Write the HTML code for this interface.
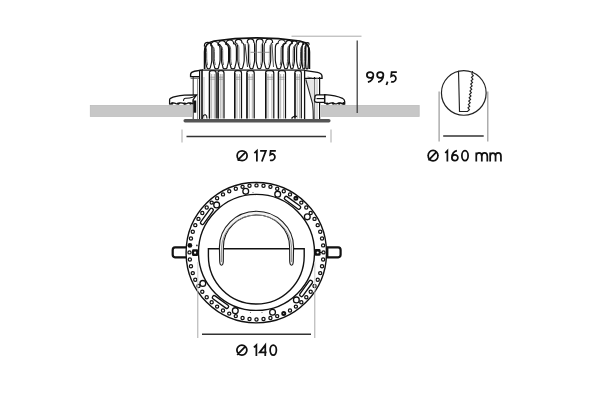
<!DOCTYPE html>
<html><head><meta charset="utf-8"><style>
html,body{margin:0;padding:0;background:#fff;}
body{width:600px;height:400px;overflow:hidden;position:relative;font-family:"Liberation Sans",sans-serif;}
svg{position:absolute;left:0;top:0;}
.t{position:absolute;font-size:16.5px;color:#1a1a1a;white-space:nowrap;line-height:1;}
</style></head><body>
<svg width="600" height="400" viewBox="0 0 600 400">
<path d="M187,247.3 H175 Q172.7,247.3 172.7,250 V254.6 Q172.7,257.3 175,257.3 H187" fill="#fff" stroke="#111" stroke-width="2.2"/>
<path d="M325.5,247.3 H338.2 Q340.6,247.3 340.6,250 V254.6 Q340.6,257.3 338.2,257.3 H325.5" fill="#fff" stroke="#111" stroke-width="2.2"/>
<path d="M327.6,247.3 V257.3" stroke="#111" stroke-width="1.6"/>
<circle cx="256.3" cy="252.70000000000002" r="70.2" fill="#fff" stroke="#111" stroke-width="1.4"/>
<circle cx="323.50" cy="252.40" r="1.6" fill="#fff" stroke="#111" stroke-width="1.25"/>
<circle cx="323.13" cy="259.40" r="1.6" fill="#fff" stroke="#111" stroke-width="1.25"/>
<circle cx="322.04" cy="266.33" r="1.6" fill="#fff" stroke="#111" stroke-width="1.25"/>
<circle cx="320.22" cy="273.10" r="1.6" fill="#fff" stroke="#111" stroke-width="1.25"/>
<circle cx="317.71" cy="279.65" r="1.6" fill="#fff" stroke="#111" stroke-width="1.25"/>
<circle cx="314.52" cy="285.90" r="1.6" fill="#fff" stroke="#111" stroke-width="1.25"/>
<circle cx="310.70" cy="291.78" r="1.6" fill="#fff" stroke="#111" stroke-width="1.25"/>
<circle cx="306.29" cy="297.23" r="1.6" fill="#fff" stroke="#111" stroke-width="1.25"/>
<circle cx="301.33" cy="302.19" r="1.6" fill="#fff" stroke="#111" stroke-width="1.25"/>
<circle cx="295.88" cy="306.60" r="1.6" fill="#fff" stroke="#111" stroke-width="1.25"/>
<circle cx="290.00" cy="310.42" r="1.6" fill="#fff" stroke="#111" stroke-width="1.25"/>
<circle cx="283.75" cy="313.61" r="1.5" fill="#fff" stroke="#111" stroke-width="2.0"/>
<circle cx="277.20" cy="316.12" r="1.6" fill="#fff" stroke="#111" stroke-width="1.25"/>
<circle cx="270.43" cy="317.94" r="1.6" fill="#fff" stroke="#111" stroke-width="1.25"/>
<circle cx="263.50" cy="319.03" r="1.6" fill="#fff" stroke="#111" stroke-width="1.25"/>
<circle cx="256.50" cy="319.40" r="1.6" fill="#fff" stroke="#111" stroke-width="1.25"/>
<circle cx="249.50" cy="319.03" r="1.6" fill="#fff" stroke="#111" stroke-width="1.25"/>
<circle cx="242.57" cy="317.94" r="1.6" fill="#fff" stroke="#111" stroke-width="1.25"/>
<circle cx="235.80" cy="316.12" r="1.6" fill="#fff" stroke="#111" stroke-width="1.25"/>
<circle cx="229.25" cy="313.61" r="1.6" fill="#fff" stroke="#111" stroke-width="1.25"/>
<circle cx="223.00" cy="310.42" r="1.6" fill="#fff" stroke="#111" stroke-width="1.25"/>
<circle cx="217.12" cy="306.60" r="1.6" fill="#fff" stroke="#111" stroke-width="1.25"/>
<circle cx="211.67" cy="302.19" r="1.6" fill="#fff" stroke="#111" stroke-width="1.25"/>
<circle cx="206.71" cy="297.23" r="1.6" fill="#fff" stroke="#111" stroke-width="1.25"/>
<circle cx="202.30" cy="291.78" r="1.6" fill="#fff" stroke="#111" stroke-width="1.25"/>
<circle cx="198.48" cy="285.90" r="1.6" fill="#fff" stroke="#111" stroke-width="1.25"/>
<circle cx="195.29" cy="279.65" r="1.6" fill="#fff" stroke="#111" stroke-width="1.25"/>
<circle cx="192.78" cy="273.10" r="1.6" fill="#fff" stroke="#111" stroke-width="1.25"/>
<circle cx="190.96" cy="266.33" r="1.6" fill="#fff" stroke="#111" stroke-width="1.25"/>
<circle cx="189.87" cy="259.40" r="1.6" fill="#fff" stroke="#111" stroke-width="1.25"/>
<circle cx="189.50" cy="252.40" r="1.6" fill="#fff" stroke="#111" stroke-width="1.25"/>
<circle cx="189.87" cy="245.40" r="2.4" fill="#111"/>
<circle cx="190.96" cy="238.47" r="1.6" fill="#fff" stroke="#111" stroke-width="1.25"/>
<circle cx="192.78" cy="231.70" r="1.6" fill="#fff" stroke="#111" stroke-width="1.25"/>
<circle cx="195.29" cy="225.15" r="1.6" fill="#fff" stroke="#111" stroke-width="1.25"/>
<circle cx="198.48" cy="218.90" r="1.6" fill="#fff" stroke="#111" stroke-width="1.25"/>
<circle cx="202.30" cy="213.02" r="1.6" fill="#fff" stroke="#111" stroke-width="1.25"/>
<circle cx="206.71" cy="207.57" r="1.6" fill="#fff" stroke="#111" stroke-width="1.25"/>
<circle cx="211.67" cy="202.61" r="1.6" fill="#fff" stroke="#111" stroke-width="1.25"/>
<circle cx="217.12" cy="198.20" r="1.6" fill="#fff" stroke="#111" stroke-width="1.25"/>
<circle cx="223.00" cy="194.38" r="1.6" fill="#fff" stroke="#111" stroke-width="1.25"/>
<circle cx="229.25" cy="191.19" r="1.6" fill="#fff" stroke="#111" stroke-width="1.25"/>
<circle cx="235.80" cy="188.68" r="1.6" fill="#fff" stroke="#111" stroke-width="1.25"/>
<circle cx="242.57" cy="186.86" r="1.6" fill="#fff" stroke="#111" stroke-width="1.25"/>
<circle cx="249.50" cy="185.77" r="1.6" fill="#fff" stroke="#111" stroke-width="1.25"/>
<circle cx="256.50" cy="185.40" r="1.6" fill="#fff" stroke="#111" stroke-width="1.25"/>
<circle cx="263.50" cy="185.77" r="1.6" fill="#fff" stroke="#111" stroke-width="1.25"/>
<circle cx="270.43" cy="186.86" r="1.6" fill="#fff" stroke="#111" stroke-width="1.25"/>
<circle cx="277.20" cy="188.68" r="1.6" fill="#fff" stroke="#111" stroke-width="1.25"/>
<circle cx="283.75" cy="191.19" r="1.6" fill="#fff" stroke="#111" stroke-width="1.25"/>
<circle cx="290.00" cy="194.38" r="1.6" fill="#fff" stroke="#111" stroke-width="1.25"/>
<circle cx="295.88" cy="198.20" r="1.5" fill="#fff" stroke="#111" stroke-width="2.0"/>
<circle cx="301.33" cy="202.61" r="1.6" fill="#fff" stroke="#111" stroke-width="1.25"/>
<circle cx="306.29" cy="207.57" r="1.6" fill="#fff" stroke="#111" stroke-width="1.25"/>
<circle cx="310.70" cy="213.02" r="1.6" fill="#fff" stroke="#111" stroke-width="1.25"/>
<circle cx="314.52" cy="218.90" r="1.6" fill="#fff" stroke="#111" stroke-width="1.25"/>
<circle cx="317.71" cy="225.15" r="1.6" fill="#fff" stroke="#111" stroke-width="1.25"/>
<circle cx="320.22" cy="231.70" r="1.6" fill="#fff" stroke="#111" stroke-width="1.25"/>
<circle cx="322.04" cy="238.47" r="1.6" fill="#fff" stroke="#111" stroke-width="1.25"/>
<circle cx="323.13" cy="245.40" r="1.6" fill="#fff" stroke="#111" stroke-width="1.25"/>
<circle cx="216.65" cy="204.91" r="2.9" fill="#fff" stroke="#111" stroke-width="1.3"/>
<circle cx="245.73" cy="191.34" r="2.9" fill="#fff" stroke="#111" stroke-width="1.3"/>
<circle cx="277.71" cy="194.14" r="2.9" fill="#fff" stroke="#111" stroke-width="1.3"/>
<circle cx="307.29" cy="216.84" r="2.9" fill="#fff" stroke="#111" stroke-width="1.3"/>
<circle cx="296.35" cy="299.89" r="2.9" fill="#fff" stroke="#111" stroke-width="1.3"/>
<circle cx="272.55" cy="312.29" r="2.9" fill="#fff" stroke="#111" stroke-width="1.3"/>
<circle cx="235.29" cy="310.66" r="2.9" fill="#fff" stroke="#111" stroke-width="1.3"/>
<circle cx="202.81" cy="283.40" r="2.9" fill="#fff" stroke="#111" stroke-width="1.3"/>
<rect x="197.41" y="214.57" width="19" height="3.6" rx="1.5" transform="rotate(-54 206.91 216.37)" fill="#fff" stroke="#111" stroke-width="1.35"/>
<rect x="283.03" y="201.01" width="19" height="3.6" rx="1.5" transform="rotate(36 292.53 202.81)" fill="#fff" stroke="#111" stroke-width="1.35"/>
<rect x="296.59" y="286.63" width="19" height="3.6" rx="1.5" transform="rotate(126 306.09 288.43)" fill="#fff" stroke="#111" stroke-width="1.35"/>
<rect x="210.97" y="300.19" width="19" height="3.6" rx="1.5" transform="rotate(216 220.47 301.99)" fill="#fff" stroke="#111" stroke-width="1.35"/>
<rect x="192.0" y="249.3" width="6.2" height="6.8" rx="1.4" fill="#111"/><circle cx="195.1" cy="252.7" r="1.1" fill="#fff"/>
<rect x="314.6" y="249.1" width="6.0" height="6.7" rx="1.4" fill="#111"/><circle cx="317.7" cy="252.5" r="1.1" fill="#fff"/>
<path d="M320,252.5 H322" stroke="#111" stroke-width="1"/>
<circle cx="196.9" cy="245.4" r="0.9" fill="#333"/><circle cx="253" cy="192.5" r="0.6" fill="#666"/><circle cx="250.5" cy="312.5" r="0.6" fill="#666"/><circle cx="262" cy="312.5" r="0.6" fill="#666"/>
<circle cx="256.5" cy="252.4" r="58" fill="#fff" stroke="#111" stroke-width="1.4"/>
<path d="M208.4,248.8 H304.2 V256 A47.9,48 0 0 1 208.4,256 Z" fill="#fff" stroke="#111" stroke-width="1.4"/>
<path d="M221.5,265.2 Q219.8,265 219.7,261 L219.4,247.2 A37.1,35.9 0 0 1 293.6,247.2 L293.3,261 Q293.2,265 291.6,265.2 Q289.8,265 289.7,261 L289.6,247.2 A33.1,32.2 0 0 0 223.4,247.2 L223.3,261 Q223.2,265 221.5,265.2 Z" fill="#f4f4f4" stroke="#1a1a1a" stroke-width="1.1" stroke-linejoin="round"/>
<path d="M221.45,262 L221.5,247.2 A35.1,34.05 0 0 1 291.6,247.2 L291.55,262" fill="none" stroke="#888" stroke-width="0.9"/>
<line x1="197.8" y1="262" x2="197.8" y2="291.5" stroke="#ccc" stroke-width="1"/>
<line x1="314.8" y1="262" x2="314.8" y2="291.5" stroke="#ccc" stroke-width="1"/>
<line x1="197.8" y1="291.5" x2="197.8" y2="338" stroke="#aaa" stroke-width="1"/>
<line x1="314.8" y1="291.5" x2="314.8" y2="338" stroke="#aaa" stroke-width="1"/>
<line x1="202" y1="334.2" x2="311" y2="334.2" stroke="#333" stroke-width="1.4"/>
<rect x="90.3" y="105.4" width="328.9" height="11" fill="#c7c7c7" stroke="#bdbdbd" stroke-width="0.8"/>
<path d="M192,119 V76 H204 V44 Q206,41 211,41 L257,37 L303,41 Q309,41 310,45 V76 H321 V119 Z" fill="#fff"/>
<path d="M206.80,67.10 Q205.40,61.90 205.40,59.90 L205.40,51.42 Q205.40,45.82 204.39,45.82 A3.40,3.40 0 0 1 211.19,45.82 Q211.80,45.82 211.80,51.42 L211.80,59.90 Q211.80,61.90 210.40,67.10 A1.80,1.80 0 0 1 206.80,67.10 Z" fill="none" stroke="#111" stroke-width="1.15"/>
<path d="M207.50,65.30 Q206.70,60.90 206.70,58.90 L206.70,52.42 Q206.70,47.12 205.69,47.12" fill="none" stroke="#444" stroke-width="0.9"/>
<path d="M214.50,66.80 Q213.10,61.90 213.10,59.90 L213.10,50.49 Q213.10,45.19 210.86,45.19 A3.70,3.70 0 0 1 218.26,45.19 Q220.10,45.19 220.10,50.49 L220.10,59.90 Q220.10,61.90 218.70,66.80 A2.10,2.10 0 0 1 214.50,66.80 Z" fill="none" stroke="#111" stroke-width="1.15"/>
<path d="M215.20,65.00 Q214.40,60.90 214.40,58.90 L214.40,51.49 Q214.40,46.49 212.16,46.49" fill="none" stroke="#444" stroke-width="0.9"/>
<path d="M222.80,66.70 Q221.40,61.90 221.40,59.90 L221.40,49.61 Q221.40,44.41 218.36,44.41 A3.80,3.80 0 0 1 225.96,44.41 Q228.60,44.41 228.60,49.61 L228.60,59.90 Q228.60,61.90 227.20,66.70 A2.20,2.20 0 0 1 222.80,66.70 Z" fill="none" stroke="#111" stroke-width="1.15"/>
<path d="M223.50,64.90 Q222.70,60.90 222.70,58.90 L222.70,50.61 Q222.70,45.71 219.66,45.71" fill="none" stroke="#444" stroke-width="0.9"/>
<path d="M230.80,66.80 Q229.40,61.90 229.40,59.90 L229.40,48.89 Q229.40,43.59 226.23,43.59 A3.70,3.70 0 0 1 233.63,43.59 Q236.40,43.59 236.40,48.89 L236.40,59.90 Q236.40,61.90 235.00,66.80 A2.10,2.10 0 0 1 230.80,66.80 Z" fill="none" stroke="#111" stroke-width="1.15"/>
<path d="M231.50,65.00 Q230.70,60.90 230.70,58.90 L230.70,49.89 Q230.70,44.89 227.53,44.89" fill="none" stroke="#444" stroke-width="0.9"/>
<path d="M239.20,67.10 Q237.80,61.90 237.80,59.90 L237.80,48.31 Q237.80,42.71 235.16,42.71 A3.40,3.40 0 0 1 241.96,42.71 Q244.20,42.71 244.20,48.31 L244.20,59.90 Q244.20,61.90 242.80,67.10 A1.80,1.80 0 0 1 239.20,67.10 Z" fill="none" stroke="#111" stroke-width="1.15"/>
<path d="M239.90,65.30 Q239.10,60.90 239.10,58.90 L239.10,49.31 Q239.10,44.01 236.46,44.01" fill="none" stroke="#888" stroke-width="0.8"/>
<path d="M249.80,67.20 Q248.40,61.90 248.40,59.90 L248.40,47.86 Q248.40,42.16 247.24,42.16 A3.30,3.30 0 0 1 253.84,42.16 Q254.60,42.16 254.60,47.86 L254.60,59.90 Q254.60,61.90 253.20,67.20 A1.70,1.70 0 0 1 249.80,67.20 Z" fill="none" stroke="#111" stroke-width="1.15"/>
<path d="M250.50,65.40 Q249.70,60.90 249.70,58.90 L249.70,48.86 Q249.70,43.46 248.54,43.46" fill="none" stroke="#888" stroke-width="0.8"/>
<path d="M257.50,67.10 Q256.10,61.90 256.10,59.90 L256.10,47.81 Q256.10,42.21 256.31,42.21 A3.40,3.40 0 0 1 263.11,42.21 Q262.50,42.21 262.50,47.81 L262.50,59.90 Q262.50,61.90 261.10,67.10 A1.80,1.80 0 0 1 257.50,67.10 Z" fill="none" stroke="#111" stroke-width="1.15"/>
<path d="M260.40,65.30 Q261.20,60.90 261.20,58.90 L261.20,48.81 Q261.20,43.51 261.81,43.51" fill="none" stroke="#888" stroke-width="0.8"/>
<path d="M265.50,67.00 Q264.10,61.90 264.10,59.90 L264.10,48.02 Q264.10,42.52 265.63,42.52 A3.50,3.50 0 0 1 272.63,42.52 Q270.70,42.52 270.70,48.02 L270.70,59.90 Q270.70,61.90 269.30,67.00 A1.90,1.90 0 0 1 265.50,67.00 Z" fill="none" stroke="#111" stroke-width="1.15"/>
<path d="M268.60,65.20 Q269.40,60.90 269.40,58.90 L269.40,49.02 Q269.40,43.82 271.33,43.82" fill="none" stroke="#888" stroke-width="0.8"/>
<path d="M276.70,66.80 Q275.30,61.90 275.30,59.90 L275.30,48.71 Q275.30,43.41 277.98,43.41 A3.70,3.70 0 0 1 285.38,43.41 Q282.30,43.41 282.30,48.71 L282.30,59.90 Q282.30,61.90 280.90,66.80 A2.10,2.10 0 0 1 276.70,66.80 Z" fill="none" stroke="#111" stroke-width="1.15"/>
<path d="M280.20,65.00 Q281.00,60.90 281.00,58.90 L281.00,49.71 Q281.00,44.71 284.08,44.71" fill="none" stroke="#444" stroke-width="0.9"/>
<path d="M284.40,67.30 Q283.00,61.90 283.00,59.90 L283.00,49.33 Q283.00,43.53 285.77,43.53 A3.20,3.20 0 0 1 292.17,43.53 Q289.00,43.53 289.00,49.33 L289.00,59.90 Q289.00,61.90 287.60,67.30 A1.60,1.60 0 0 1 284.40,67.30 Z" fill="none" stroke="#111" stroke-width="1.15"/>
<path d="M286.90,65.50 Q287.70,60.90 287.70,58.90 L287.70,50.33 Q287.70,44.83 290.87,44.83" fill="none" stroke="#444" stroke-width="0.9"/>
<path d="M290.70,67.70 Q289.30,61.90 289.30,59.90 L289.30,49.90 Q289.30,43.70 291.74,43.70 A2.80,2.80 0 0 1 297.34,43.70 Q294.50,43.70 294.50,49.90 L294.50,59.90 Q294.50,61.90 293.10,67.70 A1.20,1.20 0 0 1 290.70,67.70 Z" fill="none" stroke="#111" stroke-width="1.15"/>
<path d="M292.40,65.90 Q293.20,60.90 293.20,58.90 L293.20,50.90 Q293.20,45.00 296.04,45.00" fill="none" stroke="#444" stroke-width="0.9"/>
<path d="M298.00,67.70 Q296.60,61.90 296.60,59.90 L296.60,50.69 Q296.60,44.49 298.19,44.49 A2.80,2.80 0 0 1 303.79,44.49 Q301.80,44.49 301.80,50.69 L301.80,59.90 Q301.80,61.90 300.40,67.70 A1.20,1.20 0 0 1 298.00,67.70 Z" fill="none" stroke="#111" stroke-width="1.15"/>
<path d="M299.70,65.90 Q300.50,60.90 300.50,58.90 L300.50,51.69 Q300.50,45.79 302.49,45.79" fill="none" stroke="#444" stroke-width="0.9"/>
<path d="M302.80,67.90 Q301.90,61.90 301.90,59.90 L301.90,51.22 Q301.90,44.32 302.78,44.32 A2.10,2.10 0 0 1 306.98,44.32 Q305.70,44.32 305.70,51.22 L305.70,59.90 Q305.70,61.90 304.80,67.90 A1.00,1.00 0 0 1 302.80,67.90 Z" fill="none" stroke="#111" stroke-width="1.15"/>
<path d="M304.10,66.10 Q304.40,60.90 304.40,58.90 L304.40,52.22 Q304.40,45.62 305.68,45.62" fill="none" stroke="#444" stroke-width="0.9"/>
<path d="M306.00,67.90 Q305.60,61.90 305.60,59.90 L305.60,51.61 Q305.60,44.21 305.93,44.21 A1.60,1.60 0 0 1 309.13,44.21 Q308.40,44.21 308.40,51.61 L308.40,59.90 Q308.40,61.90 308.00,67.90 A1.00,1.00 0 0 1 306.00,67.90 Z" fill="none" stroke="#111" stroke-width="1.15"/>
<path d="M245,44 L247.5,67" stroke="#333" stroke-width="1" fill="none"/>
<path d="M272,44 L273.5,67" stroke="#555" stroke-width="1" fill="none"/>
<path d="M204.6,69 V52 Q204.6,42.6 214,41.0 Q257,34.6 300,41.0 Q309.4,42.6 309.4,52 V69" fill="none" stroke="#111" stroke-width="1.7"/>
<path d="M250.5,52.3 H256.5 M257.5,52.3 H262.5 M264,52.3 H270" stroke="#888" stroke-width="0.9"/>
<path d="M202,69.9 H304.5" stroke="#777" stroke-width="1"/>
<path d="M203,69.9 L194.5,71.2 Q190.6,72.2 190.6,74.5 V76.6 H199.5" fill="#fff" stroke="#111" stroke-width="1.4"/>
<path d="M304.2,70.4 L317.5,72.4 Q322,73.3 322,76.3 V78.4 H304.6" fill="#fff" stroke="#111" stroke-width="1.4"/>
<path d="M190.6,78.2 H199.5" stroke="#333" stroke-width="0.9"/>
<path d="M193.2,77 V119" stroke="#333" stroke-width="1.1"/>
<path d="M197.6,77 V119" stroke="#888" stroke-width="1"/>
<path d="M199.6,70 V119" stroke="#111" stroke-width="1.2"/>
<rect x="193.6" y="100.5" width="2.6" height="12.2" fill="#111"/>
<path d="M314.5,77 V119" stroke="#111" stroke-width="1.2"/>
<path d="M319.6,77 V119" stroke="#111" stroke-width="1.2"/>
<path d="M317,77 V119" stroke="#aaa" stroke-width="0.8"/>
<path d="M202,70 V119" stroke="#111" stroke-width="1.6"/>
<path d="M204,77 V119" stroke="#aaa" stroke-width="0.7"/>
<path d="M209.3,118.5 V72.90 Q209.3,70.6 211.60,70.6 H213.90 Q216.2,70.6 216.2,72.90 V118.5" fill="none" stroke="#111" stroke-width="1.2"/>
<path d="M209.70,73 V118.5" stroke="#111" stroke-width="1.0"/>
<path d="M211.70,74 V118.5 M214.30,74 V118.5" stroke="#9a9a9a" stroke-width="0.8"/>
<path d="M210.30,77.2 H215.20 M210.30,79.2 H215.20" stroke="#8a8a8a" stroke-width="0.7"/>
<path d="M217.9,118.5 V72.90 Q217.9,70.6 220.20,70.6 H221.70 Q224,70.6 224,72.90 V118.5" fill="none" stroke="#111" stroke-width="1.2"/>
<path d="M218.30,73 V118.5" stroke="#111" stroke-width="1.0"/>
<path d="M220.30,74 V118.5 M222.10,74 V118.5" stroke="#9a9a9a" stroke-width="0.8"/>
<path d="M218.90,77.2 H223.00 M218.90,79.2 H223.00" stroke="#8a8a8a" stroke-width="0.7"/>
<path d="M234.6,118.5 V72.90 Q234.6,70.6 236.90,70.6 H239.20 Q241.5,70.6 241.5,72.90 V118.5" fill="none" stroke="#111" stroke-width="1.2"/>
<path d="M235.00,73 V118.5" stroke="#111" stroke-width="1.0"/>
<path d="M237.00,74 V118.5 M239.60,74 V118.5" stroke="#9a9a9a" stroke-width="0.8"/>
<path d="M235.60,77.2 H240.50 M235.60,79.2 H240.50" stroke="#8a8a8a" stroke-width="0.7"/>
<path d="M246.8,118.5 V72.90 Q246.8,70.6 249.10,70.6 H251.90 Q254.2,70.6 254.2,72.90 V118.5" fill="none" stroke="#111" stroke-width="1.2"/>
<path d="M247.20,73 V118.5" stroke="#111" stroke-width="1.0"/>
<path d="M249.20,74 V118.5 M252.30,74 V118.5" stroke="#9a9a9a" stroke-width="0.8"/>
<path d="M247.80,77.2 H253.20 M247.80,79.2 H253.20" stroke="#8a8a8a" stroke-width="0.7"/>
<path d="M265.6,118.5 V72.90 Q265.6,70.6 267.90,70.6 H271.50 Q273.8,70.6 273.8,72.90 V118.5" fill="none" stroke="#111" stroke-width="1.2"/>
<path d="M266.00,73 V118.5" stroke="#111" stroke-width="1.0"/>
<path d="M268.00,74 V118.5 M271.90,74 V118.5" stroke="#9a9a9a" stroke-width="0.8"/>
<path d="M266.60,77.2 H272.80 M266.60,79.2 H272.80" stroke="#8a8a8a" stroke-width="0.7"/>
<path d="M278.3,118.5 V72.90 Q278.3,70.6 280.60,70.6 H283.20 Q285.5,70.6 285.5,72.90 V118.5" fill="none" stroke="#111" stroke-width="1.2"/>
<path d="M278.70,73 V118.5" stroke="#111" stroke-width="1.0"/>
<path d="M280.70,74 V118.5 M283.60,74 V118.5" stroke="#9a9a9a" stroke-width="0.8"/>
<path d="M279.30,77.2 H284.50 M279.30,79.2 H284.50" stroke="#8a8a8a" stroke-width="0.7"/>
<path d="M294.8,118.5 V72.90 Q294.8,70.6 297.10,70.6 H299.00 Q301.3,70.6 301.3,72.90 V118.5" fill="none" stroke="#111" stroke-width="1.2"/>
<path d="M295.20,73 V118.5" stroke="#111" stroke-width="1.0"/>
<path d="M297.20,74 V118.5 M299.40,74 V118.5" stroke="#9a9a9a" stroke-width="0.8"/>
<path d="M295.80,77.2 H300.30 M295.80,79.2 H300.30" stroke="#8a8a8a" stroke-width="0.7"/>
<path d="M199.5,70.2 H305" stroke="#222" stroke-width="1"/>
<path d="M304.6,70.5 V119" stroke="#111" stroke-width="1.3"/>
<path d="M306,79.3 L312.6,103.8 Q313.3,110 313.3,119 H314.5 V79.3 Z" fill="#e6e6e6" stroke="none"/>
<path d="M305.8,79.3 L312.6,103.8 Q313.3,110 313.3,119" fill="none" stroke="#222" stroke-width="1.1"/>
<path d="M307.5,77 L312,78" stroke="#555" stroke-width="0.8"/>
<path d="M202.5,118.5 Q203,114.5 205.5,114.8 Q207,115.5 207,118.5" fill="none" stroke="#111" stroke-width="1.1"/>
<path d="M291.5,118.5 Q294,115 297,116.5" fill="none" stroke="#111" stroke-width="1.3"/>
<path d="M196.5,95 L184.5,95.2 Q175,96 170.5,98.3 Q169.6,99 169.6,100 V104 Q171,104.5 172,103 Q174,102.6 176,103.6 Q178,104.4 179.5,103 Q182,102.6 184,103.6 Q186,104.4 188,103 Q190,102.6 192.5,103.6 H193 V100 Z" fill="#fff" stroke="#111" stroke-width="1.3"/>
<path d="M183.4,100.8 Q184,97.8 186,98.3 Q190,98 192.6,97.2 L196.5,95.2" fill="none" stroke="#111" stroke-width="1.1"/>
<path d="M324.6,94.6 Q336,95.4 342.5,98.3 Q344.7,99.5 344.7,101.5 V104 Q342,104.3 341,103 Q339,102.6 337,103.6 Q335,104.4 333,103 Q331,102.6 329,103.6 Q327,104.2 325,103 H324.6 Z" fill="#fff" stroke="#111" stroke-width="1.3"/>
<path d="M315,98.5 Q314.4,95 317,94.9 H324.6 V102.4 H317 Q314.4,102.4 314.4,100 Z" fill="#fff" stroke="#111" stroke-width="1.3"/>
<path d="M316.5,98.6 H324.6" stroke="#111" stroke-width="1.2"/>
<ellipse cx="172.0" cy="103.6" rx="1.5" ry="1.1" fill="#111"/>
<ellipse cx="178.3" cy="103.6" rx="1.5" ry="1.1" fill="#111"/>
<ellipse cx="184.6" cy="103.6" rx="1.5" ry="1.1" fill="#111"/>
<ellipse cx="190.6" cy="103.6" rx="1.5" ry="1.1" fill="#111"/>
<ellipse cx="327.2" cy="103.6" rx="1.5" ry="1.1" fill="#111"/>
<ellipse cx="333.2" cy="103.6" rx="1.5" ry="1.1" fill="#111"/>
<ellipse cx="339.2" cy="103.6" rx="1.5" ry="1.1" fill="#111"/>
<ellipse cx="343.6" cy="103.2" rx="1.3" ry="1.3" fill="#111"/>
<rect x="183.5" y="119" width="147" height="3.4" rx="1.6" fill="#555"/>
<line x1="182" y1="129.5" x2="182" y2="142.5" stroke="#aaa" stroke-width="1"/>
<line x1="331" y1="129.5" x2="331" y2="142.5" stroke="#aaa" stroke-width="1"/>
<line x1="186.5" y1="136.5" x2="326" y2="136.5" stroke="#333" stroke-width="1.4"/>
<line x1="291.5" y1="36.2" x2="361.5" y2="36.2" stroke="#aaa" stroke-width="1"/>
<line x1="357.2" y1="40.5" x2="357.2" y2="113" stroke="#333" stroke-width="1.2"/>
<line x1="439.1" y1="91.5" x2="439.1" y2="141.5" stroke="#999" stroke-width="1.2"/>
<line x1="487.8" y1="91.5" x2="487.8" y2="141.5" stroke="#999" stroke-width="1.2"/>
<line x1="443.2" y1="136" x2="483.7" y2="136" stroke="#333" stroke-width="1.4"/>
<circle cx="463.8" cy="92.9" r="22.35" fill="#fff" stroke="#222" stroke-width="1.2"/>
<path d="M458.5,70.8 L459.5,111.5 L468.0,111.5 L467.60,111.30 L469.40,109.60 L467.99,107.91 L469.79,106.21 L468.38,104.52 L470.18,102.82 L468.77,101.13 L470.57,99.43 L469.16,97.74 L470.96,96.04 L469.55,94.35 L471.35,92.65 L469.95,90.95 L471.74,89.26 L470.34,87.56 L472.13,85.87 L470.73,84.17 L472.52,82.48 L471.12,80.78 L472.91,79.09 L471.51,77.39 L473.30,75.70 L471.90,74.00 L472.6,71.2" fill="none" stroke="#222" stroke-width="1.15" stroke-linejoin="miter"/>
<path d="M366.88,75.01 A3.25,2.89 0 1 0 373.38,75.01 A3.25,2.89 0 1 0 366.88,75.01 Z M373.38,75.01 Q373.18,80.92 367.88,82.12 M377.12,75.01 A3.12,2.89 0 1 0 383.38,75.01 A3.12,2.89 0 1 0 377.12,75.01 Z M383.38,75.01 Q383.18,80.92 378.12,82.12 M387.60,81.60 L386.40,85.00 M396.82,72.12 H391.65 L391.15,76.33 Q392.98,75.13 393.98,75.43 A3.25,3.35 0 1 1 391.11,81.60" fill="none" stroke="#111" stroke-width="1.75" stroke-linecap="butt" stroke-linejoin="miter"/>
<path d="M237.12,155.70 A5.00,4.92 0 1 0 247.12,155.70 A5.00,4.92 0 1 0 237.12,155.70 Z M237.43,160.43 L245.93,151.78 M254.38,153.10 L256.88,150.78 V161.50 M260.12,150.78 H265.88 L261.85,161.50 M275.82,150.78 H270.65 L270.15,154.83 Q271.98,153.62 272.98,153.93 A3.25,3.35 0 1 1 270.11,160.10" fill="none" stroke="#111" stroke-width="1.75" stroke-linecap="butt" stroke-linejoin="miter"/>
<path d="M428.18,155.65 A4.88,4.97 0 1 0 437.93,155.65 A4.88,4.97 0 1 0 428.18,155.65 Z M428.48,160.43 L436.73,151.68 M445.27,153.00 L447.38,150.68 V161.50 M451.88,157.76 A3.00,2.87 0 1 0 457.88,157.76 A3.00,2.87 0 1 0 451.88,157.76 Z M451.88,157.76 Q452.07,151.88 456.88,150.68 M461.88,155.65 A3.12,4.97 0 1 0 468.12,155.65 A3.12,4.97 0 1 0 461.88,155.65 Z M476.27,152.60 V161.50 M476.27,156.16 A2.76,3.36 0 0 1 481.80,156.16 V161.50 M481.80,156.16 A2.76,3.36 0 0 1 487.32,156.16 V161.50 M490.18,152.60 V161.50 M490.18,156.09 A2.69,3.29 0 0 1 495.55,156.09 V161.50 M495.55,156.09 A2.69,3.29 0 0 1 500.93,156.09 V161.50" fill="none" stroke="#111" stroke-width="1.75" stroke-linecap="butt" stroke-linejoin="miter"/>
<path d="M236.88,350.12 A5.00,5.00 0 1 0 246.88,350.12 A5.00,5.00 0 1 0 236.88,350.12 Z M237.18,354.93 L245.68,346.12 M253.88,347.45 L256.38,345.12 V356.00 M265.25,356.00 V345.12 L259.62,352.40 H266.57 M270.12,350.12 A3.12,5.00 0 1 0 276.38,350.12 A3.12,5.00 0 1 0 270.12,350.12 Z" fill="none" stroke="#111" stroke-width="1.75" stroke-linecap="butt" stroke-linejoin="miter"/>
</svg>
</body></html>
